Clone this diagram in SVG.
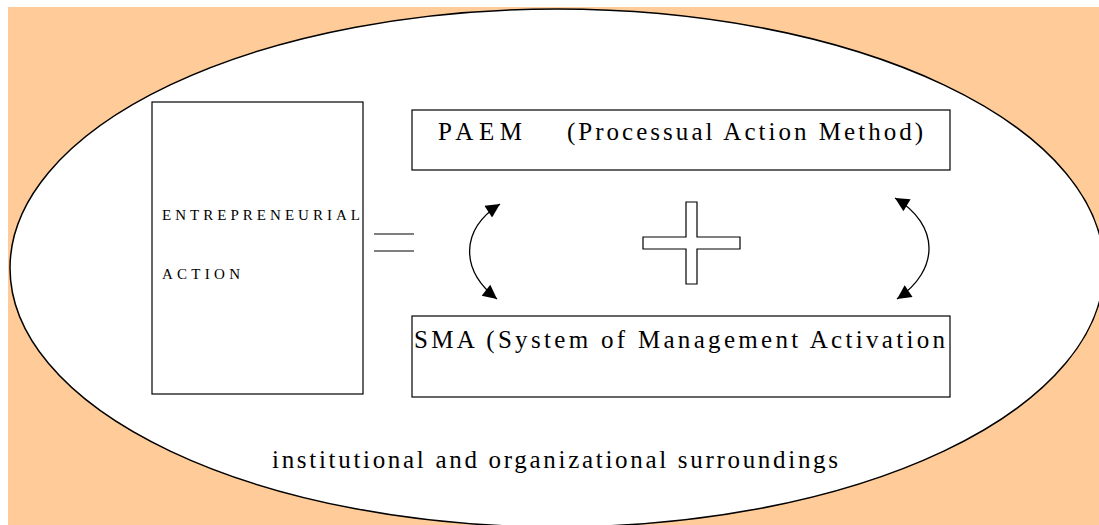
<svg xmlns="http://www.w3.org/2000/svg" width="1099" height="525" viewBox="0 0 1099 525">
<defs>
<style>
.box{fill:#fff;stroke:#000;stroke-width:1.2}
.t{font-family:"Liberation Serif","Times New Roman",serif;fill:#000}
.arc{fill:none;stroke:#000;stroke-width:1.3}
</style>
<marker id="ah" viewBox="0 0 10 10" refX="10" refY="5" markerWidth="16" markerHeight="14" markerUnits="userSpaceOnUse" orient="auto-start-reverse">
<path d="M0,0 L10,5 L0,10 z" fill="#000"/>
</marker>
</defs>
<rect x="0" y="0" width="1099" height="525" fill="#fff"/>
<rect x="8" y="7" width="1091" height="518" fill="#FFCC99"/>
<g id="surroundings">
<ellipse cx="557" cy="268" rx="547" ry="259" fill="#fff" stroke="#000" stroke-width="1.5"/>
<text class="t" x="272" y="468" font-size="25" textLength="566" lengthAdjust="spacing">institutional and organizational surroundings</text>
</g>
<g id="entrepreneurial">
<rect class="box" x="152" y="102" width="211" height="292"/>
<text class="t" x="162" y="220" font-size="15" textLength="198" lengthAdjust="spacing">ENTREPRENEURIAL</text>
<text class="t" x="162" y="279" font-size="15" textLength="78" lengthAdjust="spacing">ACTION</text>
</g>
<g id="equals">
<line x1="374" y1="234" x2="414" y2="234" stroke="#000" stroke-width="1.2"/>
<line x1="374" y1="251" x2="414" y2="251" stroke="#000" stroke-width="1.2"/>
</g>
<g id="paem">
<rect class="box" x="412" y="110" width="538" height="60"/>
<text class="t" x="438" y="140" font-size="25" textLength="84" lengthAdjust="spacing">PAEM</text>
<text class="t" x="567" y="140" font-size="25" textLength="356" lengthAdjust="spacing">(Processual Action Method)</text>
</g>
<g id="plus">
<path d="M686,202 H697 V237 H740 V249 H697 V284 H686 V249 H643 V237 H686 Z" fill="#fff" stroke="#000" stroke-width="1.2"/>
</g>
<g id="sma">
<rect class="box" x="412" y="316" width="538" height="81"/>
<text class="t" x="414" y="348" font-size="25" textLength="531" lengthAdjust="spacing">SMA (System of Management Activation</text>
</g>
<g id="connectors">
<path class="arc" d="M500,204 C460,230 460,270 497,299" marker-start="url(#ah)" marker-end="url(#ah)"/>
<path class="arc" d="M895,198 C940,225 940,270 897,299" marker-start="url(#ah)" marker-end="url(#ah)"/>
</g>
</svg>
